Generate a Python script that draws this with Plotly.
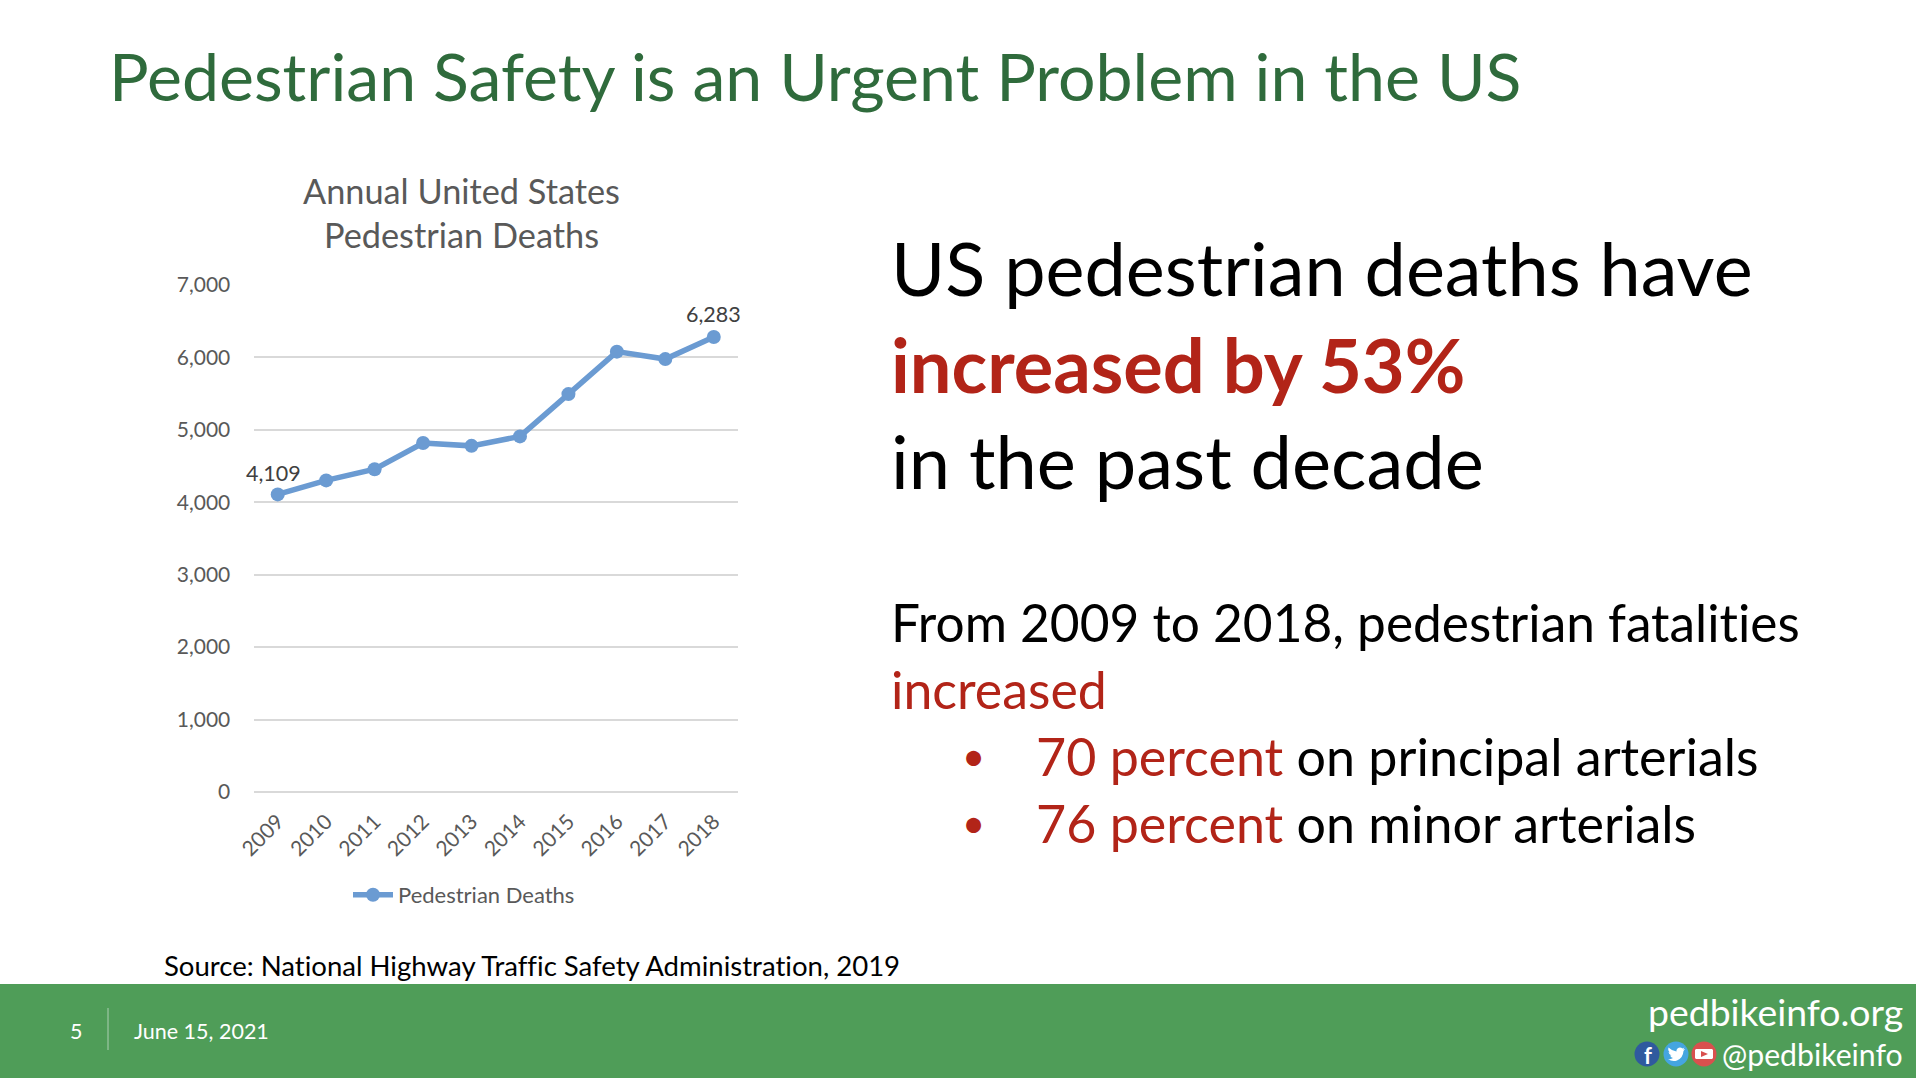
import plotly.graph_objects as go

W, H = 1916, 1078
FONT = "Lato"

years = ["2009", "2010", "2011", "2012", "2013", "2014", "2015", "2016", "2017", "2018"]
deaths = [4109, 4302, 4457, 4818, 4779, 4910, 5494, 6080, 5977, 6283]
label_years = ["2009", "2018"]
label_dx = [-4, 0]
label_dy = [21, 23]
y_ticks = [0, 1000, 2000, 3000, 4000, 5000, 6000, 7000]

BLUE = "#6B9BD2"
GREY = "#595959"
GRID = "#D9D9D9"
RED = "#B22418"
GREEN = "#4F9D58"
DARKGREEN = "#2F6B3C"

fig = go.Figure(go.Scatter(
    x=years, y=deaths, name="Pedestrian Deaths", mode="lines+markers",
    line=dict(color=BLUE, width=5.5),
    marker=dict(color=BLUE, size=14),
    cliponaxis=False,
))


def px(x):
    return x / W


def py(y):
    return 1 - y / H


def note(x, y, text, size, color="#000000", anchor="left"):
    fig.add_annotation(xref="paper", yref="paper", x=px(x), y=py(y), text=text,
                       showarrow=False, xanchor=anchor, yanchor="middle", align=anchor,
                       borderpad=0, borderwidth=0,
                       font=dict(family=FONT, size=size, color=color))


def icon(cx, cy, segs, fill):
    """Small decorative glyph; segs are (command, x1, y1, ...) offsets in pixels from the centre."""
    out = []
    for s in segs:
        nums = s[1:]
        pts = [f"{px(cx + nums[i])},{py(cy + nums[i + 1])}" for i in range(0, len(nums), 2)]
        out.append(s[0] + " ".join(pts))
    fig.add_shape(type="path", xref="paper", yref="paper", path=" ".join(out) + " Z",
                  fillcolor=fill, line_width=0)


# data labels read from the series (category axes take the category index here)
for yr, dx, dy in zip(label_years, label_dx, label_dy):
    i = years.index(yr)
    fig.add_annotation(xref="x", yref="y", x=i, y=deaths[i], text=f"{deaths[i]:,}", showarrow=False,
                       xshift=dx, yshift=dy, font=dict(family=FONT, size=21.5, color="#404040"))

# footer band
fig.add_shape(type="rect", xref="paper", yref="paper", x0=0, x1=1, y0=0, y1=py(984),
              fillcolor=GREEN, line_width=0, layer="below")
fig.add_shape(type="line", xref="paper", yref="paper", x0=px(108), x1=px(108), y0=py(1008), y1=py(1050),
              line=dict(color="#8DBF94", width=1.5))
for cx, col in [(1647, "#2F5A9E"), (1676, "#45A5E0"), (1704, "#D9504E")]:
    fig.add_shape(type="circle", xref="paper", yref="paper", x0=px(cx - 12.5), x1=px(cx + 12.5),
                  y0=py(1054 + 12.5), y1=py(1054 - 12.5), fillcolor=col, line_width=0)
icon(1676, 1054, [("M", -8, 5), ("Q", -4, 8, 1, 6.5), ("Q", 7, 4, 7.5, -3), ("L", 9, -5), ("L", 7, -4.5),
                  ("L", 8.5, -6.5), ("L", 6.5, -5.5), ("Q", 4, -7.5, 1.5, -5.5), ("Q", 0, -4, 0.5, -2.5),
                  ("Q", -4, -3, -7.5, -6.5), ("Q", -8.5, -3.5, -6, -1.5), ("L", -7.5, -2), ("Q", -7, 1, -4.5, 1.5),
                  ("L", -6, 1.5), ("Q", -5, 3.5, -3, 4), ("Q", -5, 5.5, -8, 5)], "#FFFFFF")
icon(1704, 1054, [("M", -8, -5), ("L", 8, -5), ("L", 9, -4), ("L", 9, 4), ("L", 8, 5), ("L", -8, 5),
                  ("L", -9, 4), ("L", -9, -4)], "#FFFFFF")
icon(1704, 1054, [("M", -3, -3), ("L", 4, 0), ("L", -3, 3)], "#D9504E")

note(109, 75, "Pedestrian Safety is an Urgent Problem in the US", 66.2, DARKGREEN)
note(461, 190.5, "Annual United States", 34.3, GREY, "center")
note(461, 235, "Pedestrian Deaths", 34.3, GREY, "center")
note(891, 267, "US pedestrian deaths have", 73.8)
note(891, 364, "<b>increased by 53%</b>", 74, RED)
note(891, 460, "in the past decade", 74)
note(891, 622, "From 2009 to 2018, pedestrian fatalities", 51.4)
note(891, 689, "increased", 51.8, RED)
note(973, 756, "•", 40, RED, "center")
note(1036, 756, f'<span style="color:{RED}">70 percent</span> on principal arterials', 52)
note(973, 823, "•", 40, RED, "center")
note(1036, 823, f'<span style="color:{RED}">76 percent</span> on minor arterials', 52)
note(164, 965, "Source: National Highway Traffic Safety Administration, 2019", 27.55)
note(76, 1031, "5", 21.5, "#FFFFFF", "center")
note(134, 1031, "June 15, 2021", 21.5, "#FFFFFF")
note(1903, 1011, "pedbikeinfo.org", 37.4, "#FFFFFF", "right")
note(1903, 1054, "@pedbikeinfo", 30.2, "#FFFFFF", "right")
note(1648, 1055, "<b>f</b>", 22, "#FFFFFF", "center")

fig.update_layout(
    width=W, height=H, margin=dict(l=0, r=0, t=0, b=0, autoexpand=False),
    paper_bgcolor="#FFFFFF", plot_bgcolor="#FFFFFF",
    font=dict(family=FONT, color=GREY, size=21),
    showlegend=True,
    legend=dict(x=px(348), y=py(895), xanchor="left", yanchor="middle", orientation="h",
                itemwidth=40, bgcolor="rgba(0,0,0,0)",
                font=dict(family=FONT, size=22, color=GREY)),
    xaxis=dict(domain=[px(253.5), px(738)], type="category", range=[-0.5, 9.5],
               tickangle=-45, showgrid=False, showline=False, zeroline=False,
               ticks="outside", ticklen=8, tickcolor="rgba(0,0,0,0)",
               tickfont=dict(family=FONT, size=21, color=GREY)),
    yaxis=dict(domain=[py(792), py(285)], range=[0, 7000], tickvals=y_ticks, tickformat=",",
               showgrid=True, gridcolor=GRID, gridwidth=1.5, zeroline=True, zerolinecolor=GRID,
               zerolinewidth=1.5, showline=False, ticks="outside", ticklen=18, tickcolor="rgba(0,0,0,0)",
               tickfont=dict(family=FONT, size=21, color=GREY)),
)

fig.write_html("out.html", config={"displayModeBar": False},
               post_script="document.body.style.margin='0';document.body.style.overflow='hidden';"
                           "var s=document.createElement('style');"
                           "s.textContent='svg text,svg tspan{font-variant-ligatures:none !important}';"
                           "document.head.appendChild(s);")
